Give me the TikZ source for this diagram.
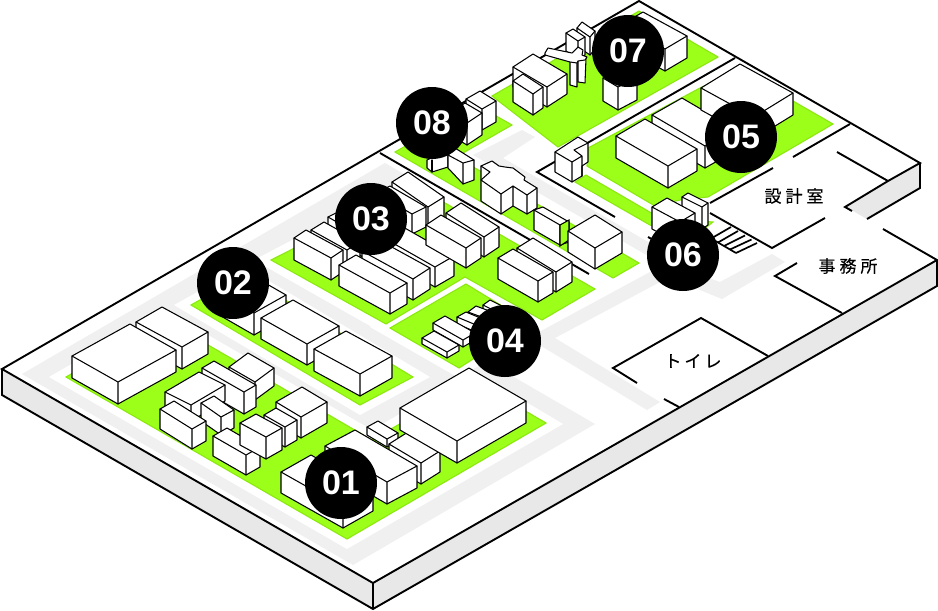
\documentclass[tikz,border=0pt]{standalone}
\usepackage{fontspec}
\setmainfont{Noto Sans}
\newfontfamily\numfont[Ligatures=TeX]{Liberation Sans}
\newfontfamily\jpfont[FakeBold=0.3]{Noto Sans CJK JP}
\definecolor{grn}{HTML}{9BFF1A}
\definecolor{grnd}{HTML}{8CE80F}
\definecolor{road}{HTML}{F0F0F0}
\definecolor{side}{HTML}{E8E8E8}
\tikzset{
  wall/.style={draw=black,line width=1.9pt,line join=miter},
  roadarea/.style={fill=road},
  margin/.style={fill=white},
  lawn/.style={fill=grn,draw=grnd,line width=1.1pt,line join=miter},
  bldg/.style={draw=black,line width=1.05pt,line join=round,fill=white},
  bldgline/.style={draw=black,line width=1.05pt,line join=round,line cap=round},
  badge/.style={circle,fill=black,minimum size=72pt,inner sep=0pt,text=white,font=\numfont\bfseries\fontsize{34}{34}\selectfont},
  roomlabel/.style={text=black,font=\jpfont\fontsize{17}{18}\selectfont,inner sep=0pt}
}
\newcommand{\isobox}[7]{%
  \pgfmathsetmacro{\bkx}{#1+#5-#3}\pgfmathsetmacro{\bky}{#2+#6-#4}%
  \pgfmathsetmacro{\lby}{#2+#7}\pgfmathsetmacro{\fby}{#4+#7}\pgfmathsetmacro{\rby}{#6+#7}%
  \path[bldg] (#1,#2)--(\bkx,\bky)--(#5,#6)--(#5,\rby)--(#3,\fby)--(#1,\lby)--cycle;%
  \path[bldgline] (#1,#2)--(#3,#4)--(#5,#6) (#3,#4)--(#3,\fby);%
}
\begin{document}
\begin{tikzpicture}[x=1pt,y=-1pt]
\useasboundingbox (0,0) rectangle (938,611);
% platform
\fill[side] (2,369)--(373,583)--(373,609)--(2,395)--cycle;
\fill[side] (373,583)--(937,260)--(937,286)--(373,609)--cycle;
\fill[white] (2,369)--(639,1)--(920,163)--(845,207)--(937,260)--(373,583)--cycle;
\fill[side] (845,207)--(888,181)--(920,163)--(920,188)--(867,219)--(853,211)--cycle;
% road areas
\path[roadarea] (22,374)--(353,565)--(595,424)--(488,362)--(460,340)--(470,300)--(440,195)--(385,163)--cycle;
\path[roadarea] (660,282)--(650,272)--(528,338)--(647,410)--(660,402)--(555,338)--cycle;
\path[roadarea] (473,155)--(522,130)--(535,137)--(503,158)--(650,243)--(700,290)--(722,299)--(785,262)--(772,254)--(720,282)--(650,257)--cycle;
% white margins
\path[margin] (49,377)--(347,549)--(563,424)--(474,371)--(372,430)--(165,310)--cycle;
\path[margin] (174,305)--(360,415)--(430,377)--(244,266)--cycle;
\path[margin] (254,260)--(386,335)--(465,288)--(542,330)--(612,289)--(445,193)--(420,185)--(395,185)--(340,215)--cycle;
\path[margin] (370,327)--(466,272)--(547,323)--(459,378)--cycle;
% lawns
\path[lawn] (66,377)--(347,539)--(546,423)--(474,381)--(372,440)--(165,320)--cycle;
\path[lawn] (191,305)--(360,405)--(413,377)--(244,275)--cycle;
\path[lawn] (271,260)--(386,324)--(465,277)--(542,320)--(595,289)--(445,203)--(425,195)--(395,195)--(340,225)--cycle;
\path[lawn] (390,328)--(466,284)--(530,323)--(459,368)--cycle;
\path[lawn] (588,148)--(700,88)--(725,75)--(793,101)--(833,124)--(708,197)--(680,200)--(655,206)--(587,166)--cycle;
\path[lawn] (575,182)--(586,175)--(660,218)--(713,222)--(690,240)--(650,225)--cycle;
\path[lawn] (492,96)--(639,11)--(718,57)--(558,147)--cycle;
\path[lawn] (395,152)--(613,278)--(639,263)--(456,157)--(512,125)--(477,105)--cycle;
% platform outline
\draw[wall] (373,583)--(2,369)--(639,1)--(920,163)--(888,181)--(845,207)--(852,211);
\draw[wall] (883,229)--(937,260)--(373,583);
\draw[wall] (2,369)--(2,395)--(373,609)--(937,286)--(937,260);
\draw[wall] (373,583)--(373,609);
\draw[wall] (920,163)--(920,188)--(867,219);
% internal walls
\draw[wall] (380,153)--(589,274);
\draw[wall] (735,58)--(537,172)--(615,217);
\draw[wall] (648,237)--(657,242);
\draw[wall] (710,213)--(772,248)--(825,218);
\draw[wall] (710,203)--(773,168);
\draw[wall] (793,157)--(850,124);
\draw[wall] (837,152)--(888,181);
\draw[wall] (797,263)--(775,276)--(842,313);
\draw[wall] (768,356)--(701,318)--(613,368)--(637,383);
\draw[wall] (664,399)--(679,407);
% stairs
\draw[wall,line width=1.7pt] (700,232)--(736,253);
\foreach \a/\b/\c/\d in {731/227/712/238,738/231/718/242.5,745/235.5/724/246,751.5/239.5/730/249.5,757/243/736/253}
  \draw[wall,line width=1.7pt] (\a,\b)--(\c,\d);
% block 01
\isobox{136}{322}{182}{347}{208}{332}{22}
\isobox{72}{356}{118}{382}{176}{350}{22}
\isobox{229}{367}{255}{382}{274}{368}{18}
\isobox{202}{368}{244}{392}{256}{385}{22}
\isobox{165}{392}{191}{405}{225}{385}{16}
\isobox{201}{403}{221}{417}{234}{410}{18}
\isobox{160}{409}{192}{429}{206}{421}{20}
\isobox{213}{436}{246}{455}{260}{447}{20}
\isobox{276}{402}{301}{417}{327}{402}{21}
\isobox{264}{415}{285}{427}{297}{420}{20}
\isobox{240}{423}{266}{437}{282}{428}{22}
\isobox{367}{427}{387}{439}{398}{433}{8}
\isobox{389}{444}{421}{463}{440}{451}{21}
\isobox{325}{446}{387}{482}{417}{466}{22}
\isobox{281}{472}{343}{507}{373}{490}{21}
\isobox{400}{408}{457}{441}{526}{401}{22}
% block 02
\isobox{214}{290}{254}{313}{286}{295}{22}
\isobox{261}{318}{307}{344}{339}{326}{21}
\isobox{314}{349}{360}{374}{392}{356}{22}
% block 03
\isobox{392}{182}{428}{207}{444}{197}{21}
\isobox{376}{193}{412}{214}{426}{207}{20}
\isobox{328}{217}{400}{258}{412}{252}{20}
\isobox{311}{230}{347}{250}{360}{242}{22}
\isobox{294}{238}{331}{258}{343}{250}{22}
\isobox{384}{238}{435}{267}{454}{256}{20}
\isobox{362}{251}{413}{279}{430}{268}{21}
\isobox{339}{265}{390}{293}{407}{283}{21}
\isobox{446}{213}{484}{237}{499}{227}{20}
\isobox{426}{225}{466}{248}{481}{238}{20}
\isobox{517}{248}{556}{272}{572}{262}{20}
\isobox{498}{258}{538}{281}{553}{272}{21}
% block 04
\isobox{483}{305}{503}{315}{510}{310}{7}
\isobox{468}{312}{495}{322}{503}{316}{7}
\isobox{457}{317}{481}{327}{490}{322}{7}
\isobox{433}{323}{463}{340}{475}{333}{7}
\isobox{422}{338}{447}{352}{459}{345}{6}
% block 08
\isobox{466}{99}{482}{109}{496}{101}{21}
\isobox{450}{113}{467}{123}{482}{113}{22}
\path[bldg] (427,160)--(448,150)--(448,167)--(432,172)--(427,168)--cycle;
\path[bldgline] (432,172)--(432,160);
\path[bldg] (455,148)--(474,160)--(474,180)--(463,184)--(448,168)--(448,155)--cycle;
\path[bldgline] (448,155)--(463,163)--(474,160) (463,163)--(463,184);
% cross building
\path[bldg] (481,166)--(492,161)--(499,166)--(505,167)--(513,168)--(525,177)--(524,180)--(537,188)--(537,208)--(527,214)--(513,206)--(501,214)--(481,201)--cycle;
\path[bldgline] (481,166)--(490,172)--(481,180)--(501,194)--(513,186)--(527,195)--(537,188) (501,194)--(501,214) (513,186)--(513,206) (527,195)--(527,214);
% small blocks along divider
\isobox{534}{210}{560}{225}{569}{222}{20}
\path[fill=grn,draw=black,line width=1.05pt] (560,225)--(569,220)--(569,240)--(560,246)--cycle;
\isobox{568}{231}{595}{248}{622}{232}{21}
% block 07
\isobox{621}{25}{665}{49}{687}{36}{22}
\isobox{603}{78}{618}{87}{637}{77}{23}
\isobox{513}{67}{547}{87}{567}{74}{20}
\isobox{513}{81}{533}{94}{543}{87}{21}
\isobox{577}{28}{590}{37}{595}{31}{18}
\isobox{566}{33}{578}{41}{585}{37}{18}
\path[bldg] (570,60)--(577,62)--(577,87)--(570,85)--cycle;
\path[bldg] (578,60)--(586,58)--(585,83)--(578,82)--cycle;
\path[bldg] (545,53)--(548,48)--(572,53)--(578,47)--(583,50)--(582,55)--(587,57)--(585,60)--(578,61)--(577,63)--(570,62)--(545,55)--cycle;
% block 05
\isobox{652}{115}{705}{146}{735}{129}{22}
\isobox{616}{136}{668}{166}{697}{149}{22}
\isobox{701}{88}{754}{117}{793}{93}{22}
% wall corner building
\path[bldg] (555,152)--(578,137)--(588,143)--(588,162)--(582,166)--(582,176)--(572,182)--(555,172)--cycle;
\path[bldgline] (555,152)--(572,162)--(582,156)--(574,150)--(588,143) (572,162)--(572,182) (582,156)--(582,176);
% block 06
\isobox{682}{197}{702}{207}{708}{203}{22}
\isobox{652}{207}{680}{222}{695}{213}{22}
% badges
\node[badge] (b1) at (341,483) {01};
\node[badge] (b2) at (233,283) {02};
\node[badge] (b3) at (371,219) {03};
\node[badge] (b4) at (505,341) {04};
\node[badge] (b5) at (741,137) {05};
\node[badge] (b6) at (683,255) {06};
\node[badge] (b7) at (628,51) {07};
\node[badge] (b8) at (432,123) {08};
% room labels
\node[roomlabel] (r1) at (794,196) {設\hspace{4pt}計\hspace{4pt}室};
\node[roomlabel] (r2) at (848,266) {事\hspace{4pt}務\hspace{4pt}所};
\node[roomlabel] (r3) at (693,361) {ト\hspace{3pt}イ\hspace{3pt}レ};
\end{tikzpicture}
\end{document}
